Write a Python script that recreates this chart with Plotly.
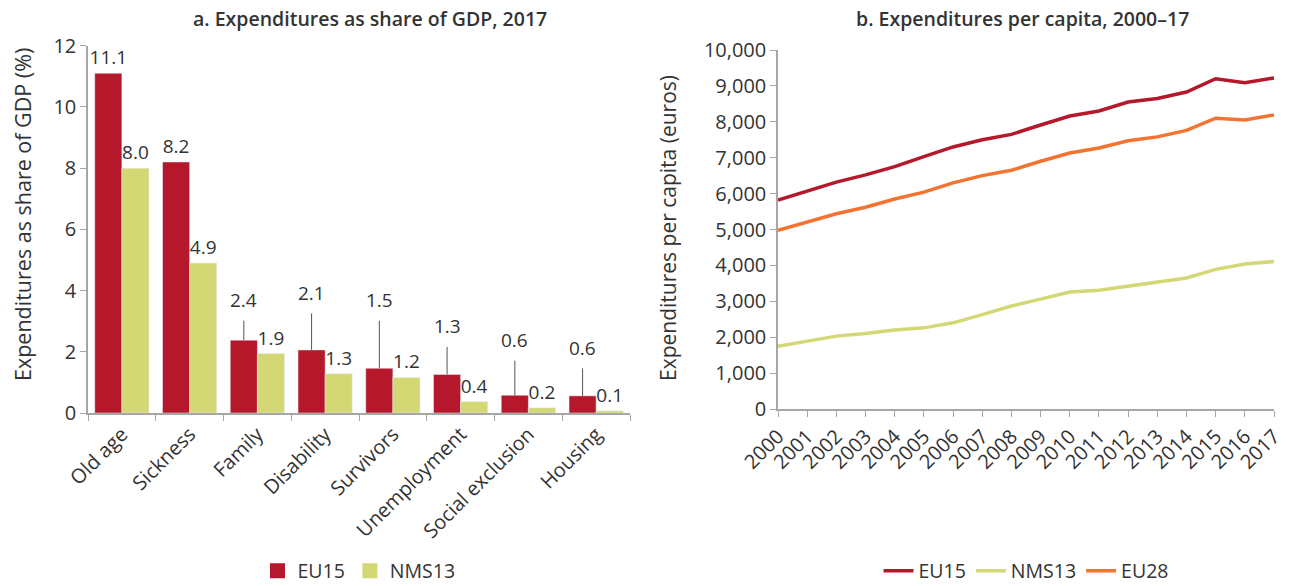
import plotly.graph_objects as go

# ---------------- data ----------------
categories = ["Old age", "Sickness", "Family", "Disability", "Survivors",
              "Unemployment", "Social exclusion", "Housing"]
eu15_gdp = [11.1, 8.2, 2.38, 2.06, 1.46, 1.26, 0.58, 0.56]
nms13_gdp = [8.0, 4.9, 1.94, 1.28, 1.16, 0.37, 0.17, 0.07]

years = list(range(2000, 2018))
eu15_pc = [5820, 6070, 6320, 6520, 6750, 7030, 7300, 7500, 7650, 7910,
           8160, 8300, 8550, 8650, 8830, 9200, 9090, 9220]
nms13_pc = [1750, 1880, 2030, 2100, 2200, 2260, 2400, 2630, 2870, 3060,
            3260, 3310, 3420, 3520, 3650, 3890, 4040, 4110]
eu28_pc = [4980, 5200, 5440, 5620, 5850, 6040, 6300, 6500, 6650, 6900,
           7130, 7270, 7470, 7580, 7760, 8100, 8050, 8190]

# ---------------- style ----------------
RED = "#B5182A"
LIME = "#D3D874"
ORANGE = "#F37430"
TXT = "#333333"
AX = "#A6A6A6"
FONT = "Open Sans"
W, H = 1290, 586

# leader-line lift (pixels) for EU15 labels; 0 = plain label above bar
label_lift = [0, 0, 40, 57, 68, 48, 55, 48]

fig = go.Figure()

eu15_text = [f"{v:.1f}" if lift == 0 else "" for v, lift in zip(eu15_gdp, label_lift)]

fig.add_trace(go.Bar(
    x=categories, y=eu15_gdp, name="EU15", marker_color=RED,
    text=eu15_text, textposition="outside", cliponaxis=False, constraintext="none",
    textfont=dict(size=19, color=TXT, family=FONT), showlegend=False,
    xaxis="x", yaxis="y"))
fig.add_trace(go.Bar(
    x=categories, y=nms13_gdp, name="NMS13", marker_color=LIME,
    texttemplate="%{y:.1f}", textposition="outside", cliponaxis=False,
    constraintext="none", showlegend=False,
    textfont=dict(size=19, color=TXT, family=FONT),
    xaxis="x", yaxis="y"))

# legend entries (square swatches) for the bar panel
for name, col in [("EU15", RED), ("NMS13", LIME)]:
    fig.add_trace(go.Scatter(
        x=[None], y=[None], name=name, mode="markers",
        marker=dict(symbol="square", size=15, color=col),
        xaxis="x", yaxis="y", legend="legend"))

for name, vals, col in [("EU15", eu15_pc, RED), ("NMS13", nms13_pc, LIME), ("EU28", eu28_pc, ORANGE)]:
    fig.add_trace(go.Scatter(
        x=years, y=vals, name=name, mode="lines",
        line=dict(color=col, width=3.5),
        xaxis="x2", yaxis="y2", legend="legend2"))


def px_x(p):
    return p / W


def px_y(p):
    return 1 - p / H


annotations = []
cat_w = (630 - 88) / len(categories)
for c, v, lift in zip(categories, eu15_gdp, label_lift):
    if lift:
        annotations.append(dict(
            x=c, y=v, xref="x", yref="y", xshift=-cat_w * 0.2,
            text=f"{v:.1f}", showarrow=True, arrowhead=0, arrowwidth=1,
            arrowcolor="#555555", ax=0, ay=-lift, startstandoff=6,
            font=dict(size=19, color=TXT, family=FONT)))

annotations += [
    dict(text="a. Expenditures as share of GDP, 2017", x=px_x(370), y=px_y(18),
         xref="paper", yref="paper", showarrow=False, xanchor="center", yanchor="middle",
         font=dict(size=19.5, color=TXT, family=FONT, weight=600)),
    dict(text="b. Expenditures per capita, 2000–17", x=px_x(1022), y=px_y(18),
         xref="paper", yref="paper", showarrow=False, xanchor="center", yanchor="middle",
         font=dict(size=19.5, color=TXT, family=FONT, weight=600)),
    dict(text="Expenditures as share of GDP (%)", x=px_x(22), y=px_y(215),
         xref="paper", yref="paper", showarrow=False, textangle=-90,
         xanchor="center", yanchor="middle",
         font=dict(size=21.5, color=TXT, family=FONT)),
    dict(text="Expenditures per capita (euros)", x=px_x(668), y=px_y(228),
         xref="paper", yref="paper", showarrow=False, textangle=-90,
         xanchor="center", yanchor="middle",
         font=dict(size=21, color=TXT, family=FONT)),
]

axis_common = dict(showline=True, linecolor=AX, linewidth=1.5, showgrid=False,
                   zeroline=False, ticks="outside", tickcolor=AX, ticklen=6,
                   automargin=False,
                   tickfont=dict(size=20, color=TXT, family=FONT))

fig.update_layout(
    width=W, height=H,
    margin=dict(l=0, r=0, t=0, b=0, pad=0, autoexpand=False), autosize=False,
    paper_bgcolor="white", plot_bgcolor="white",
    font=dict(family=FONT, color=TXT),
    barmode="group", bargap=0.2, bargroupgap=0,
    xaxis=dict(domain=[px_x(88), px_x(630)], anchor="y", tickangle=-45,
               tickson="boundaries", **axis_common),
    yaxis=dict(domain=[px_y(413), px_y(45.7)], anchor="x", range=[0, 12], dtick=2,
               **axis_common),
    xaxis2=dict(domain=[px_x(778), px_x(1274)], anchor="y2", tickangle=-45,
                range=[2000, 2017], dtick=1, **axis_common),
    yaxis2=dict(domain=[px_y(409), px_y(50)], anchor="x2", range=[0, 10000],
                dtick=1000, tickformat=",", **axis_common),
    legend=dict(orientation="h", x=px_x(359), y=px_y(571), xanchor="center",
                yanchor="middle", font=dict(size=19.5, color=TXT, family=FONT),
                bgcolor="rgba(0,0,0,0)", itemsizing="trace", borderwidth=0),
    legend2=dict(orientation="h", x=px_x(1026), y=px_y(571), xanchor="center",
                 yanchor="middle", font=dict(size=19.5, color=TXT, family=FONT),
                 bgcolor="rgba(0,0,0,0)", borderwidth=0),
    annotations=annotations,
    showlegend=True,
)

fig.write_html("out.html",
               config={"displayModeBar": False, "responsive": False},
               post_script="document.body.style.margin='0';document.body.style.overflow='hidden';")
